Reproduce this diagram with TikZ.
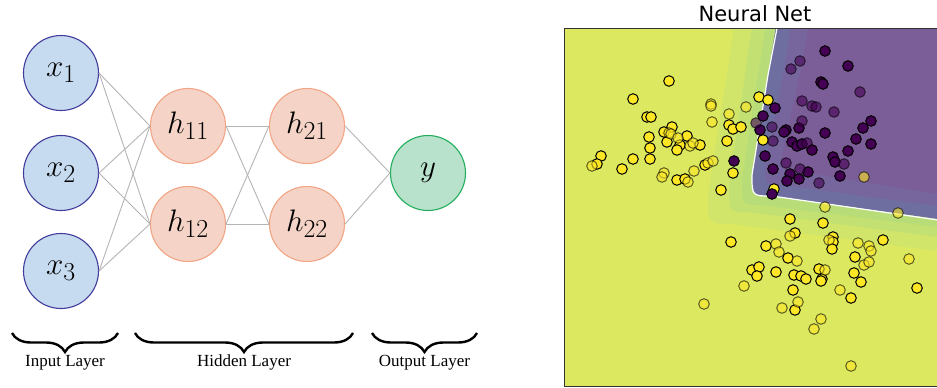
\documentclass[tikz,border=0pt]{standalone}
\usepackage{fontspec}
\newfontfamily\titlefont{DejaVu Sans}
\newfontfamily\layerfont{Liberation Serif}
\usetikzlibrary{decorations.pathreplacing,calc}
\definecolor{inputfill}{HTML}{C6DBEF}
\definecolor{inputborder}{HTML}{413B9C}
\definecolor{hiddenfill}{HTML}{F5D4C7}
\definecolor{hiddenborder}{HTML}{F2A585}
\definecolor{outputfill}{HTML}{B8E2CC}
\definecolor{outputborder}{HTML}{22AE5C}
\definecolor{edgegray}{HTML}{B4B4B4}
\definecolor{bgyellow}{HTML}{DCE85F}
\definecolor{bandA}{HTML}{D0E56A}
\definecolor{bandB}{HTML}{C3E172}
\definecolor{bandC}{HTML}{B8DD78}
\definecolor{bandD}{HTML}{6E6FA0}
\definecolor{bandE}{HTML}{76669D}
\definecolor{bandF}{HTML}{7B5D97}
\definecolor{viryellow}{HTML}{FDE725}
\definecolor{virdark}{HTML}{440154}
\newcommand{\unitlabel}[1]{\scalebox{1.25}{$#1$}}

\begin{document}
\begin{tikzpicture}[
  x=1pt, y=-1pt,
  neuron/.style={
    circle,
    minimum size=75pt,
    inner sep=0pt,
    line width=1.1pt,
    font=\Huge
  },
  inputneuron/.style={neuron, draw=inputborder, fill=inputfill},
  hiddenneuron/.style={neuron, draw=hiddenborder, fill=hiddenfill},
  outputneuron/.style={neuron, draw=outputborder, fill=outputfill},
  weight/.style={draw=edgegray, line width=0.9pt},
  layerbrace/.style={
    decorate,
    decoration={brace, amplitude=19pt, mirror},
    line width=2.4pt
  },
  layerlabel/.style={font=\layerfont\fontsize{17}{17}\selectfont, anchor=base},
  train/.style={draw=black, line width=1pt},
  test/.style={draw=black, line width=1pt, opacity=0.6}
]
  \useasboundingbox (0,0) rectangle (937,388);

  % Network: input, two hidden layers, output
  \node[inputneuron] (x1) at (61,73) {\unitlabel{x_1}};
  \node[inputneuron] (x2) at (61,173) {\unitlabel{x_2}};
  \node[inputneuron] (x3) at (61,271) {\unitlabel{x_3}};

  \node[hiddenneuron] (h11) at (188,126) {\unitlabel{h_{11}}};
  \node[hiddenneuron] (h12) at (188,224) {\unitlabel{h_{12}}};
  \node[hiddenneuron] (h21) at (307,126) {\unitlabel{h_{21}}};
  \node[hiddenneuron] (h22) at (307,224) {\unitlabel{h_{22}}};

  \node[outputneuron] (y) at (428,173) {\unitlabel{y}};

  % Weights
  \foreach \a in {x1,x2,x3}
    \foreach \b in {h11,h12}
      \draw[weight] (\a.east) -- (\b.west);
  \foreach \a in {h11,h12}
    \foreach \b in {h21,h22}
      \draw[weight] (\a.east) -- (\b.west);
  \foreach \a in {h21,h22}
    \draw[weight] (\a.east) -- (y.west);

  % Layer braces
  \coordinate (inL) at (12,333);
  \coordinate (inR) at (118,333);
  \coordinate (hidL) at (135,333);
  \coordinate (hidR) at (353,333);
  \coordinate (outL) at (372,333);
  \coordinate (outR) at (477,333);
  \draw[layerbrace] (inL) -- (inR);
  \draw[layerbrace] (hidL) -- (hidR);
  \draw[layerbrace] (outL) -- (outR);
  \node[layerlabel] (inlabel) at ($(inL)!0.5!(inR)+(0,33)$) {Input Layer};
  \node[layerlabel] (hidlabel) at ($(hidL)!0.5!(hidR)+(0,33)$) {Hidden Layer};
  \node[layerlabel] (outlabel) at ($(outL)!0.5!(outR)+(0,33)$) {Output Layer};

  % Decision surface plot
  \node[font=\titlefont\fontsize{21}{21}\selectfont] (title) at (755,14) {Neural Net};
  \begin{scope}
    \clip (564,28.5) rectangle (937,386.5);
    \fill[bgyellow] (564,28.5) rectangle (940,386.5);
    \foreach \xt/\xm/\xl/\yl/\xc/\yc/\yr/\col in {
        735/727/708/195/732/224/252/bandA,
        753/745/729/185/748/212/238/bandB,
        767/758/742/180/760/205/228/bandC,
        777/768/752/175/772/196/220/bandD,
        792/783/765/165/782/185/207/bandE,
        810/800/782/155/800/172/195/bandF}
      \fill[\col] (\xt,20) -- (\xm,75) -- (\xl,\yl) .. controls (\xl,\yc) .. (\xc,\yc)
        -- (945,\yr) -- (945,20) -- cycle;
    \draw[white, line width=1.2pt] (778.6,20) -- (768,75) -- (752,175)
      .. controls (752,196) .. (772,196) -- (945,221);

    % training points
    \foreach \p in {(669,81),(633,99),(759,97),(768,100),(647,117),(651,117),
        (672,127),(664,132),(687,136),(649,137),(667,142),(680,145),(700,145),
        (677,150),(650,148),(650,159),(633,159),(601,156),(597,164),(622,169),
        (705,165),(677,180),(685,179),(721,190),(727,141),(729,125),(733,129),
        (741,127),(763,140),(733,173),(774,189),(790,219),(823,223),(795,233),
        (731,242),(766,246),(833,237),(833,242),(832,249),(883,240),(788,258),
        (855,257),(752,270),(759,267),(757,276),(776,272),(794,275),(801,276),
        (806,279),(819,269),(822,279),(821,281),(854,273),(861,282),(793,290),
        (851,298),(795,310),(917,288)}
      \filldraw[train, fill=viryellow] \p circle (5.3pt);
    \foreach \p in {(825,51),(848,66),(821,82),(823,84),(775,108),(763,116),
        (760,130),(786,130),(784,132),(799,128),(825,133),(871,121),(863,128),
        (856,139),(871,144),(792,142),(797,146),(802,144),(812,150),(848,151),
        (765,156),(833,157),(835,162),(734,161),(773,169),(790,174),(808,172),
        (799,179),(787,181),(840,176),(772,194)}
      \filldraw[train, fill=virdark] \p circle (5.3pt);

    % test points
    \foreach \p in {(711,104),(711,106),(746,107),(729,114),(712,122),(669,133),
        (671,134),(678,138),(690,146),(693,143),(592,166),(708,163),(713,161),
        (694,171),(664,173),(662,177),(688,182),(864,177),(825,207),(898,213),
        (790,236),(776,244),(779,252),(829,240),(858,243),(869,246),(871,251),
        (797,261),(825,270),(864,265),(869,262),(909,259),(744,286),(840,290),
        (798,302),(782,308),(704,304),(821,319),(814,329),(851,366)}
      \filldraw[test, fill=viryellow] \p circle (5.3pt);
    \foreach \p in {(800,61),(791,69),(860,92),(802,101),(812,106),(816,107),
        (834,112),(802,121),(756,123),(772,127),(773,141),(807,143),(786,163),
        (844,164),(800,169),(819,183)}
      \filldraw[test, fill=virdark] \p circle (5.3pt);
  \end{scope}
  \draw[line width=1pt, black!80] (564,28.5) rectangle (945,386.5);

\end{tikzpicture}
\end{document}
